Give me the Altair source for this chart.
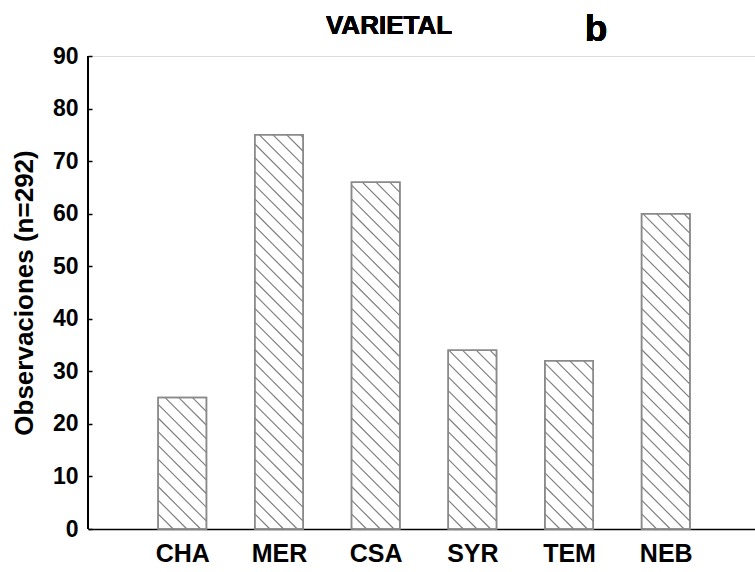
import json

import altair as alt
import pandas as pd

# Observations per varietal (n = 292)
categories = ["CHA", "MER", "CSA", "SYR", "TEM", "NEB"]
counts = [25, 75, 66, 34, 32, 60]

FONT = "Liberation Sans"
W, H = 667, 473
X_DOMAIN = [-0.975, 5.923]
Y_DOMAIN = [0, 90]
HALF = 0.25          # half bar width in category units
GAP = 13.7           # horizontal spacing of hatch lines, px
PHASE = 1.4

bars = pd.DataFrame({"idx": list(range(len(categories))), "cat": categories, "n": counts})
bars["x0"] = bars["idx"] - HALF
bars["x1"] = bars["idx"] + HALF

# Diagonal hatch segments clipped to each bar (lines running top-left to bottom-right)
kx = W / (X_DOMAIN[1] - X_DOMAIN[0])
ky = H / (Y_DOMAIN[1] - Y_DOMAIN[0])
rows = []
for b in bars.itertuples():
    w = (b.x1 - b.x0) * kx
    h = b.n * ky
    c = PHASE
    while c < w + h:
        ua, ub = max(0.0, c - h), min(w, c)
        if ub > ua:
            rows.append({
                "xa": b.x0 + ua / kx, "ya": (c - ua) / ky,
                "xb": b.x0 + ub / kx, "yb": (c - ub) / ky,
            })
        c += GAP
hatch = pd.DataFrame(rows)

label_expr = json.dumps(categories) + "[datum.value]"

x_scale = alt.Scale(domain=X_DOMAIN, nice=False, zero=False)
y_scale = alt.Scale(domain=Y_DOMAIN, nice=False)

x_axis = alt.Axis(
    values=list(range(len(categories))), labelExpr=label_expr, title=None,
    ticks=False, grid=False, domainColor="black", domainWidth=1.5,
    labelFont=FONT, labelFontSize=25, labelFontWeight="bold", labelColor="black",
    labelPadding=12, labelFlush=False,
)
y_axis = alt.Axis(
    values=list(range(0, 91, 10)), title="Observaciones (n=292)", grid=False,
    domain=False, offset=-4, tickSize=4, tickColor="black", tickWidth=1.5,
    labelFont=FONT, labelFontSize=23, labelFontWeight="bold", labelColor="black",
    labelPadding=10, titleFont=FONT, titleFontSize=26, titleFontWeight="bold",
    titleColor="black", titlePadding=15,
)

base = alt.Chart(bars)

fill = base.mark_bar(fill="white", stroke="#8a8a8a", strokeWidth=1.5).encode(
    x=alt.X("x0:Q", scale=x_scale, axis=x_axis),
    x2="x1:Q",
    y=alt.Y("n:Q", scale=y_scale, axis=y_axis),
    y2=alt.datum(0),
)

lines = alt.Chart(hatch).mark_rule(color="#7a7a7a", strokeWidth=1.1).encode(
    x=alt.X("xa:Q", scale=x_scale),
    x2="xb:Q",
    y=alt.Y("ya:Q", scale=y_scale),
    y2="yb:Q",
)

outline = base.mark_bar(fill=None, stroke="#8a8a8a", strokeWidth=1.5).encode(
    x=alt.X("x0:Q", scale=x_scale),
    x2="x1:Q",
    y=alt.Y("n:Q", scale=y_scale),
    y2=alt.datum(0),
)

y_line = alt.Chart(bars).mark_rule(color="black", strokeWidth=1.5).encode(
    x=alt.value(0), y=alt.value(0), y2=alt.value(H)
)

heading = alt.Chart(bars).mark_text(
    text="VARIETAL", font=FONT, fontSize=26, fontWeight="bold", color="black",
    align="center", baseline="alphabetic",
).encode(x=alt.value(301), y=alt.value(-22))

panel_letter = alt.Chart(bars).mark_text(
    text="b", font=FONT, fontSize=37, fontWeight="bold", color="black",
    align="center", baseline="alphabetic",
).encode(x=alt.value(508), y=alt.value(-15))

chart = (
    alt.layer(fill, lines, outline, y_line, heading, panel_letter)
    .properties(
        width=W, height=H,
        padding={"left": 88, "top": 56, "right": 0, "bottom": 43},
        autosize=alt.AutoSizeParams(type="none"),
    )
    .configure_view(stroke=None)
    .configure(background="white")
)

chart.save("out.html", embed_options={"renderer": "svg", "actions": False})
